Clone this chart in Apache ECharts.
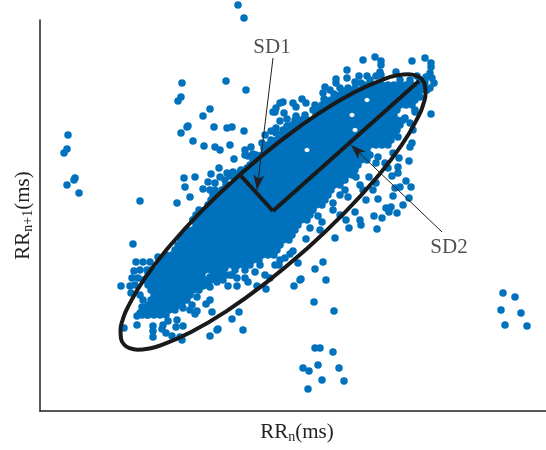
<!DOCTYPE html>
<html><head><meta charset="utf-8">
<style>html,body{margin:0;padding:0;background:#fff}#c{width:546px;height:450px}</style>
<script src="https://cdn.jsdelivr.net/npm/echarts@6/dist/echarts.min.js"></script></head>
<body><div id="c"></div>
<script>
// Dense core of the cloud, read row by row: [RRn+1, RRn, RRn, ...]
const coreRows = [
[326,324,330,336,342,348,354,360,366,372,378,384],
[321,309,315,321,327,333,339,345,351,357,363,369,375,381,387],
[316,300,306,312,318,324,330,336,342,348,354,360,366,372,378],
[311,285,291,297,303,309,315,321,333,339,345,351,357,363,369,375],
[306,282,288,294,300,306,312,318,324,330,336,342,348,354,360,366,372],
[301,273,279,285,291,297,303,309,315,321,327,333,339,345,351,357,375],
[296,276,282,288,294,300,306,318,324,330,336,342,348,354],
[291,255,261,267,273,279,285,291,297,303,309,315,321,327,333,339,345,351,357,363],
[286,252,258,264,270,276,282,288,294,300,306,312,318,324,330,336,342,348,354,360],
[281,243,249,255,261,267,273,279,285,291,297,303,309,321,327,333,339,345,351,357],
[276,240,246,252,258,264,270,276,282,288,294,300,306,312,318,324,330,336,342,348,354],
[271,231,237,243,249,255,261,267,273,279,285,291,297,303,309,315,321,327,333,339,345,351],
[266,228,234,240,246,252,258,264,270,276,282,288,294,300,306,312,318,324,330,336,342,348],
[261,225,231,237,243,249,255,261,273,279,285,291,297,303,309,315,321,327],
[256,216,222,228,234,240,246,252,258,264,270,276,282,288,294,300,306,312,318,324,330],
[251,213,219,225,231,237,243,249,255,261,267,273,279,285,291,297,303,309,315,321,327],
[246,210,216,222,228,234,240,246,252,258,264,270,276,282,288,294,300,306,312,318],
[241,201,207,213,219,225,231,237,243,249,255,261,267,273,279,285,291,297,303,309,315],
[236,198,204,210,216,222,228,234,240,246,252,258,264,270,276,282,288,294,300,306,312],
[231,195,201,207,213,219,225,231,237,243,249,255,261,267,273,279,285,291,297,303],
[226,186,192,198,204,210,216,222,228,234,240,246,252,258,264,270,276,282,288,294,300],
[221,183,189,195,201,207,213,219,225,231,237,243,249,255,261,267,273,279,285,291],
[216,174,180,186,192,198,204,210,216,222,228,234,240,246,252,258,264,270,276,282,288],
[211,171,177,183,189,195,201,207,213,219,225,231,237,243,249,255,261,267,273,279,285],
[206,168,174,180,186,192,198,204,210,216,222,228,234,240,246,252,258,264,270,276,282],
[201,159,165,171,177,183,189,195,201,207,213,219,225,231,237,243,249,255,261,267,273],
[196,156,162,168,174,180,186,192,198,204,210,216,222,228,234,240,246,252,258,264,270],
[191,153,159,165,171,177,183,189,195,201,207,213,219,225,231,237,243,249,255,261,267],
[186,156,162,168,174,180,186,192,198,204,210,216,222,228,234,240,246,252,258],
[181,147,153,159,165,171,177,183,189,195,201,207,213,219,225,231,237,243,249,255],
[176,144,150,156,162,168,174,180,186,192,198,204,210,216,222,228,234,240,246,252],
[171,141,147,153,159,165,171,177,183,189,195,201,207,213,219,225,231,237,243,249],
[166,138,144,150,156,162,168,174,180,186,192,198,204,210,216,222,228,234,240],
[161,135,141,147,153,159,165,171,177,183,189,195,201,207,213,219,225,231,237],
[156,126,132,138,144,150,156,162,168,174,180,186,192,198,204,210,216,222,228,234],
[151,123,129,135,141,147,153,159,165,171,177,183,189,195,201,207,213,219],
[146,120,126,132,138,144,150,156,162,168,174,180,186,192,198,204,210],
[141,111,117,123,129,135,141,147,153,159,165,171,177,183,195],
[136,108,114,120,126,132,138,144,150,156,162,174,180,186,192],
[131,105,111,117,123,129,135,141,147,153,159,165,171,177,183],
[126,108,114,120,126,132,138,144,150,156,162,168],
[121,111,117,123,129,135,141,147,153,159],
[116,114,120,126,132,138,144,150],
[111,111,117,123,129,135,141,147],
[106,108,114,120,126,132,138],
[101,105,111,117,123,129,135],
[96,102,108,114,120,126]
];
// Individually readable points around the cloud: [RRn, RRn+1]
const scatterPoints = [
[198,406],[204,393],[142,328],[186,330],[206,321],[141,314],[138,310],[170,302],[163,295],[148,285],[147,284],[174,284],[187,283],[192,284],[141,278],[204,280],[153,270],[164,265],[175,264],[180,261],[190,266],[194,252],[179,243],[144,233],[155,234],[145,224],[150,214],[137,208],[100,210],
[28,276],[27,262],[24,258],[35,233],[34,231],[27,226],[39,218],
[205,261],[211,264],[213,257],[205,256],[208,255],[225,276],[222,268],[231,280],[233,299],[224,263],[232,268],
[171,237],[168,229],[187,238],[193,239],[200,239],[207,243],[163,222],[170,221],[173,216],[182,221],[175,228],[180,234],[153,191],[163,194],[190,235],[197,234],[185,231],[175,221],
[323,351],[335,354],[341,350],[341,346],[372,350],[385,353],[391,348],[391,344],[356,339],[307,341],[340,339],[336,335],[341,336],[390,338],[386,334],[392,333],[394,328],[390,323],[391,297],[377,335],[296,332],[307,333],[319,335],[327,335],[315,329],[321,328],[296,328],[285,324],[283,318],[284,312],[294,317],[303,320],[308,323],[243,309],[240,308],[253,308],[262,312],[266,308],[275,306],[256,304],[236,303],[244,298],[235,299],[247,292],[240,290],[256,295],[265,296],[247,285],[236,283],[236,278],[300,323],[290,321],[315,323],[330,331],[335,326],[360,331],[370,331],[380,331],[385,329],
[380,314],[375,299],[365,293],[370,288],[373,281],[358,274],[372,268],[370,264],[353,258],[359,253],[369,250],[358,244],[338,254],[336,248],[345,248],[348,243],[358,238],[352,235],[366,230],[371,224],[360,224],[355,223],[353,215],[369,213],[363,206],[351,204],[346,203],[349,199],[357,198],[342,193],[334,195],[338,212],[326,211],[333,221],[336,228],[329,234],[323,221],[320,191],[315,199],[306,191],
[300,234],[305,231],[305,221],[316,234],[320,226],[308,214],[300,216],[293,208],[278,195],[293,201],[300,196],[282,189],[270,183],[280,181],
[93,167],[96,149],[118,154],[103,149],[110,149],[94,140],[100,141],[92,133],[98,133],[81,125],[90,125],[95,126],[91,118],[103,111],[100,116],[102,104],[97,95],[100,98],[107,96],[97,86],[84,83],[113,85],[113,80],[113,74],[123,86],[122,82],[126,78],[132,75],[128,90],[137,91],[136,84],[143,85],[140,74],[142,71],[170,75],[177,81],[178,82],[203,81],[192,92],[199,99],[172,99],[166,107],[170,111],[157,114],[155,97],[157,100],[143,103],[150,101],[152,106],[142,108],[188,125],[197,125],[208,129],[205,133],[226,122],[217,125],[170,124],[163,125],[177,129],[170,134],[190,136],[197,133],[107,141],[103,131],
[225,136],[230,133],[215,139],[205,141],[185,143],[235,146],[245,153],[220,146],
[337,182],[321,186],[309,183],[295,173],[266,172],[253,160],[250,157],[240,151],[239,146],[258,148],[283,149],[275,142],[286,131],[261,132],[260,131],[254,125],[274,109],[294,100],
[275,63],[280,63],[293,59],[278,46],[263,43],[269,40],[299,43],[282,31],[304,30],[268,22],
[463,118],[475,114],[461,101],[481,98],[465,86],[487,85]
];
const ellipsePath = [[199.8,236.3],[162.3,200.7],[129.7,165],[104.1,131.7],[87.4,103],[82.6,90.9],[80.5,80.7],[81,72.6],[84,66.5],[89.6,62.8],[97.7,61.3],[108,62.3],[120.6,65.6],[151.1,78.9],[187.3,100.4],[226.5,128.7],[266.2,161.7],[303.7,197.3],[336.3,233],[361.9,266.3],[378.6,295],[383.4,307.1],[385.5,317.3],[385,325.4],[382,331.5],[376.4,335.2],[368.3,336.7],[358,335.7],[345.4,332.4],[314.9,319.1],[278.7,297.6],[239.5,269.3],[199.8,236.3],[162.3,200.7]];
const sd1Line = [[233,200],[201,235]];
const sd2Line = [[233,200],[379,330]];
const sd1Arrow = [[233,353],[217,221]];
const sd2Arrow = [[402,179],[311,266]];
const textLabels = [['SD1',232,364],['SD2',409,164]];

const corePoints = coreRows.flatMap(r => r.slice(1).map(x => [x, r[0]]));
const serif = '"Liberation Serif", serif';
const ink = '#231f20';
const blue = '#0072BD';
const richText = {
  a:{fontFamily:serif,fontSize:21,color:ink},
  s:{fontFamily:serif,fontSize:14,color:ink,verticalAlign:'bottom',padding:[10,0,0,0]}
};
const chart = echarts.init(document.getElementById('c'));
chart.setOption({
  animation:false,
  backgroundColor:'#fff',
  grid:{left:40,top:20,width:506,height:391,outerBoundsMode:'none',containLabel:false},
  xAxis:{type:'value',min:0,max:506,splitLine:{show:false},axisTick:{show:false},axisLabel:{show:false},
    axisLine:{show:true,lineStyle:{color:ink,width:1.5}},
    name:'{a|RR}{s|n}{a|(ms)}',nameLocation:'middle',nameGap:9,
    nameTextStyle:{rich:richText,padding:[0,0,0,8]}},
  yAxis:{type:'value',min:0,max:391,splitLine:{show:false},axisTick:{show:false},axisLabel:{show:false},
    axisLine:{show:true,lineStyle:{color:ink,width:1.5}},
    name:'{a|RR}{s|n+1}{a|(ms)}',nameLocation:'middle',nameGap:5,nameRotate:90,
    nameTextStyle:{rich:richText,padding:[0,0,0,0]}},
  series:[
    {type:'scatter',clip:false,symbolSize:7.5,itemStyle:{color:blue,opacity:1},data:corePoints,large:false,z:2},
    {type:'scatter',clip:false,symbolSize:7.5,itemStyle:{color:blue,opacity:1},data:scatterPoints,z:2},
    {type:'line',clip:false,smooth:0.5,symbol:'none',lineStyle:{color:'#1a1a1a',width:4},data:ellipsePath,z:3},
    {type:'line',clip:false,symbol:'none',lineStyle:{color:'#1a1a1a',width:4},data:sd1Line,z:3},
    {type:'line',clip:false,symbol:'none',lineStyle:{color:'#1a1a1a',width:4},data:sd2Line,z:3},
    {type:'line',clip:false,symbol:'none',lineStyle:{opacity:0},data:[],z:4,silent:true,
      markLine:{silent:true,animation:false,symbol:['none','arrow'],symbolSize:[8,15],
        label:{show:false},lineStyle:{color:ink,width:1,type:'solid'},
        data:[[{coord:sd1Arrow[0]},{coord:sd1Arrow[1]}],[{coord:sd2Arrow[0]},{coord:sd2Arrow[1]}]]}},
    {type:'scatter',clip:false,symbolSize:0,silent:true,z:5,
      data:textLabels.map(t=>({name:t[0],value:[t[1],t[2]]})),
      label:{show:true,position:'inside',formatter:'{b}',fontFamily:serif,fontSize:21,color:ink}}
  ]
});
</script></body></html>
